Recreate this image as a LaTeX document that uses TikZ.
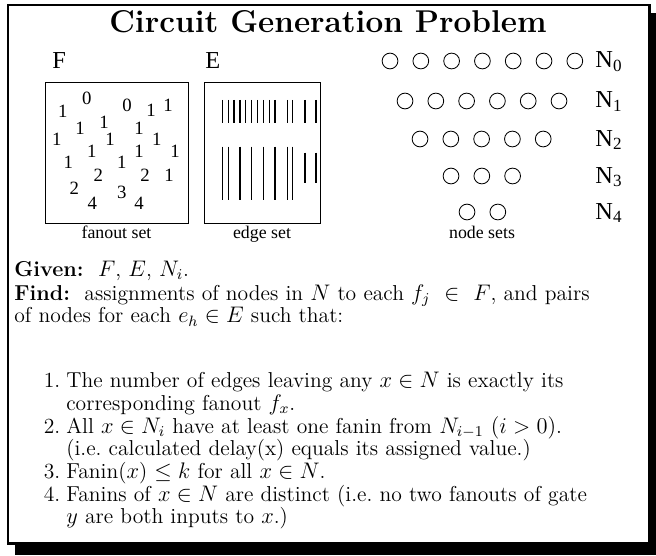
\documentclass[tikz,border=0pt]{standalone}
\usepackage{fontspec}
\newfontfamily\timesf{Liberation Serif}
\newcounter{cnd}
\newcommand\tightlines{\setlength{\lineskiplimit}{-6pt}}
\usetikzlibrary{positioning}

\begin{document}
\begin{tikzpicture}[x=0.533pt,y=-0.533pt,
    gate/.style={draw, circle, line width=0.45pt, minimum size=8.4pt, inner sep=0pt},
    fan/.style={font=\timesf\fontsize{10}{11}\selectfont, inner sep=0pt},
    setlabel/.style={font=\timesf\fontsize{13}{14}\selectfont, inner sep=0pt, anchor=base west},
    caption/.style={font=\timesf\fontsize{9.5}{11}\selectfont, inner sep=0pt, anchor=base},
    body/.style={font=\fontsize{11.5}{12.1}\selectfont, inner sep=0pt,
      anchor=base west, text width=335pt},
    edge/.style={line width=0.55pt}]
    \useasboundingbox (0,0) rectangle (656,555);
    % shadow and frame
    \path[fill=black](15,13)rectangle(656,555);
    \path[draw, fill=white, line width=1.2pt](8,5)rectangle(649.5,543.5);
    % title
    \node[font=\bfseries\fontsize{16.8}{19}\selectfont, inner sep=0pt, anchor=base] (title) at (328,33) {Circuit Generation Problem};
    % fanout set
    \node[setlabel] (F) at (52,69) {F};
    \path[draw, line width=0.5pt](45,82)rectangle(188,223);
    \foreach \x/\y/\f [count=\i] in {62.7/111/1, 86.7/98/0, 127/105/0, 151/110/1, 168/105/1,
        80/128/1, 104/122/1, 139/128/1, 56.7/139/1, 110/139/1, 156.7/139/1,
        91.7/151/1, 139/151/1, 175/151/1, 68.3/162/1, 121.7/162/1,
        98.3/175/2, 145/175/2, 169/175/1, 74.3/188/2, 121.7/192/3, 92.3/203/4, 139/203/4}
      \node[fan] (f\i) at (\x,\y) {\f};
    \node[caption] (fcap) at (116.5,238) {fanout set};
    % edge set
    \node[setlabel] (E) at (205,69) {E};
    \path[draw, line width=0.5pt](204,82)rectangle(320,223);
    \foreach \x in {222.3,228.3,234,240,245.7,251.7,257.7,263.3,269.3,275,287.3,292.7,305,316}
      \path[draw, edge](\x,100)to(\x,123.3);
    \foreach \x in {222.3,228.3,240,251.7,263.3,275,287.3,292.7}
      \path[draw, edge](\x,146.7)to(\x,200);
    \foreach \x in {305,316}
      \path[draw, edge](\x,152.7)to(\x,182.7);
    \node[caption] (ecap) at (262,238) {edge set};
    % node sets
    \foreach \n/\y/\x/\k in {0/61/390/6, 1/101/405/5, 2/139/420/4, 3/176/451/2, 4/212/467/1}{
      \foreach \j in {0,...,\k}
        \node[gate] (n\n-\j) at ({\x+30.8*\j},\y) {};
      \node[setlabel] (N\n) at (595,{\y+7}) {N\textsubscript{\n}};
    }
    \node[caption] (ncap) at (482,238) {node sets};
    % problem text
    \node[body] (prob) at (14,276)
      {\tightlines\textbf{Given:}\ \ $F$, $E$, $N_i$.\par\vspace{0.8pt}
       \textbf{Find:}\ \ assignments of nodes in $N$ to each $f_j\in F$, and pairs\linebreak
       of nodes for each $e_h\in E$ such that:};
    % conditions (list glue puts the node top at its base)
    \node[body] (cond) at (14,365)
      {\tightlines
       \begin{list}{\arabic{cnd}.}{\usecounter{cnd}\setlength{\leftmargin}{27.7pt}%
         \setlength{\labelsep}{3.2pt}\setlength{\labelwidth}{24.5pt}\setlength{\itemsep}{0pt}%
         \setlength{\parsep}{0pt}\setlength{\topsep}{0pt}\setlength{\partopsep}{0pt}}
       \item The number of edges leaving any $x\in N$ is exactly its\linebreak
         corresponding fanout $f_x$.
       \item All $x\in N_i$ have at least one fanin from $N_{i-1}$ $(i>0)$.\linebreak
         (i.e.\ calculated delay(x) equals its assigned value.)
       \item Fanin($x$) $\leq k$ for all $x\in N$.
       \item Fanins of $x\in N$ are distinct (i.e.\ no two fanouts of gate\linebreak
         $y$ are both inputs to $x$.)
       \end{list}};
\end{tikzpicture}
\end{document}
